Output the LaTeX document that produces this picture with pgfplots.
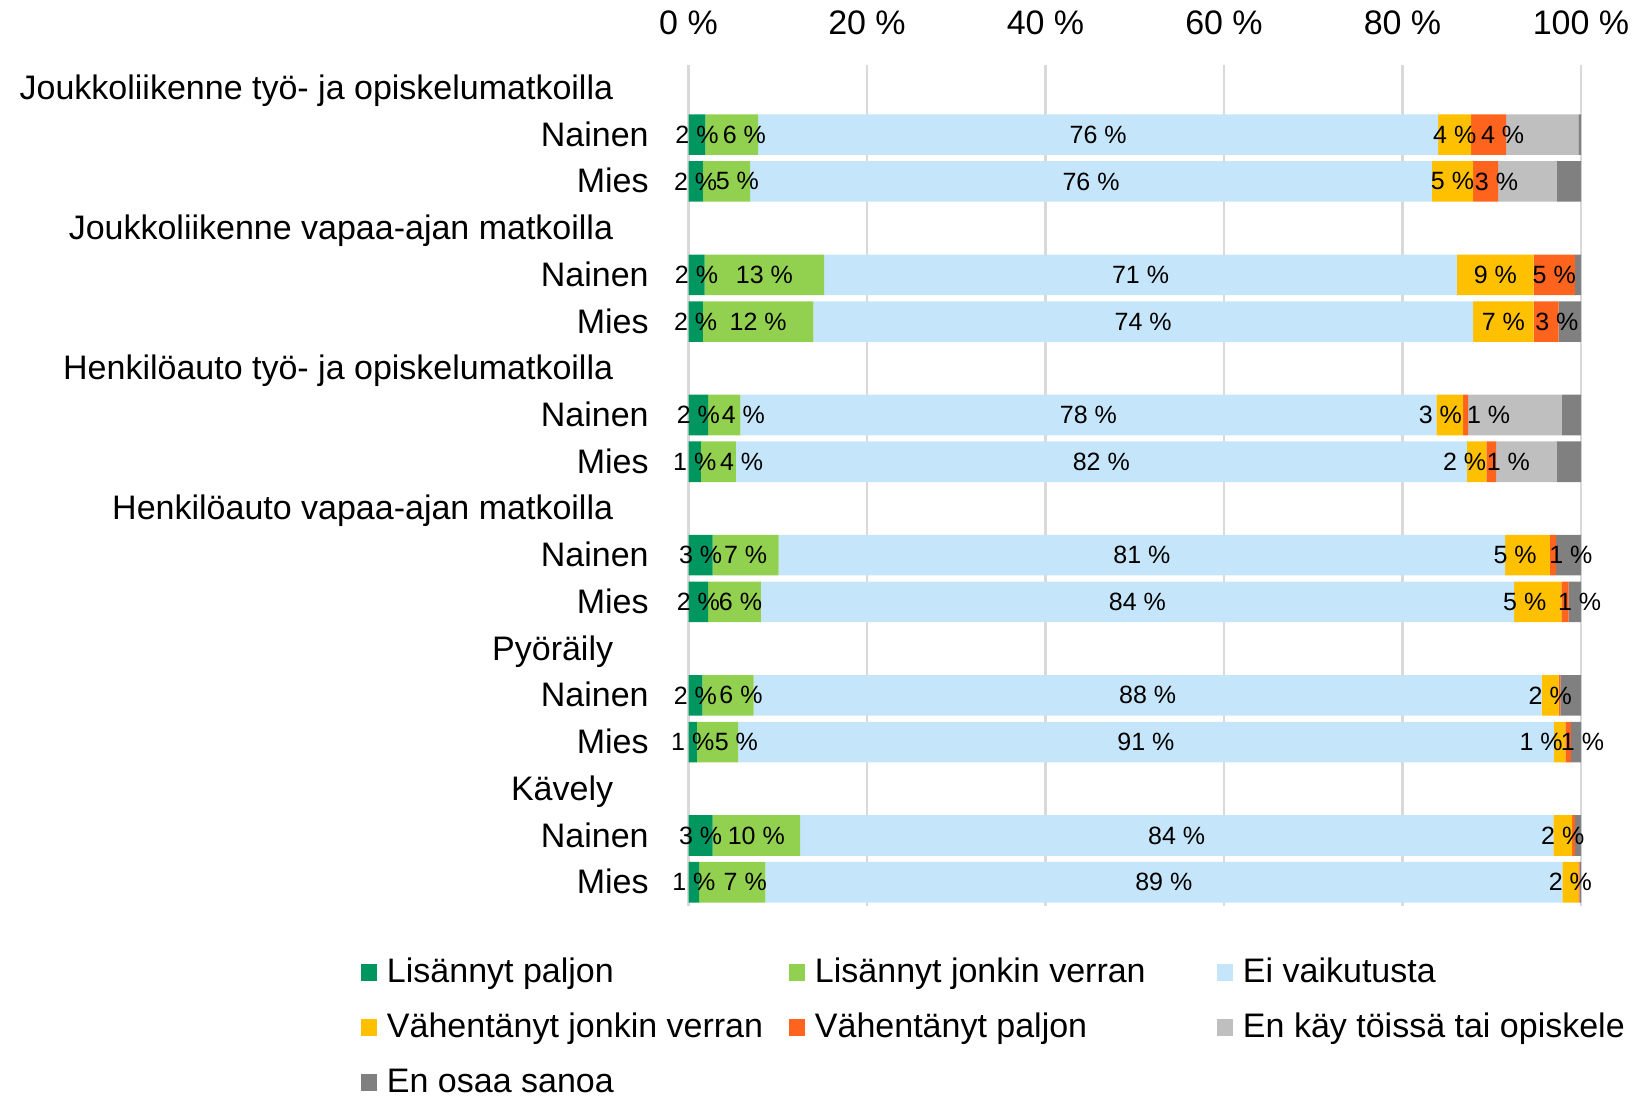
\documentclass[border=0pt]{standalone}
\usepackage{pgfplots}
\pgfplotsset{compat=1.18}
\usepackage{pgfplotstable}
\usepackage{fontspec}
\setmainfont{Liberation Sans}
\definecolor{dkgreen}{RGB}{0,150,95}
\definecolor{ltgreen}{RGB}{146,208,80}
\definecolor{ltblue}{RGB}{197,230,250}
\definecolor{cyellow}{RGB}{255,192,0}
\definecolor{corange}{RGB}{255,100,30}
\definecolor{ltgrey}{RGB}{191,191,191}
\definecolor{dkgrey}{RGB}{128,128,128}
\pgfkeys{/pgf/number format/assume math mode=true}
% rows: y position, the seven answer shares (%), and label nudges (pt) for series b, d, e
\pgfplotstableread{
y   a    b    c    d    e    f    g     sb   sd    se
-1  1.9  5.9  76.2 3.7  3.9  8.1  0.3   6.3  0     7
-2  1.6  5.3  76.4 4.6  2.8  6.6  2.7   5.5  0     5.5
-4  1.8  13.4 70.9 8.6  4.6  0    0.7   0    0     0
-5  1.6  12.4 73.9 6.8  2.8  0    2.5   0    0     5.3
-7  2.2  3.6  78.0 3.0  0.55 10.5 2.15  9.6  -4.75 11.5
-8  1.4  3.9  81.9 2.2  1.1  6.8  2.7   11.6 -6    8.5
-10 2.7  7.4  81.4 5.0  0.7  0    2.8   0    -6.2  9
-11 2.2  5.9  84.4 5.3  0.8  0    1.4   3    -6.5  7.3
-13 1.55 5.75 88.3 1.9  0.2  0    2.3   6.5  0     0
-14 0.95 4.6  91.4 1.3  0.6  0    1.15  9.4  -9.2  7.2
-16 2.7  9.8  84.4 2.1  0.3  0    0.7   0    0     0
-17 1.2  7.4  89.3 1.8  0.15 0    0.15  6.5  0     0
}\data
\newcommand{\seglabel}{%
  \pgfmathfloattofixed{\pgfplotspointmeta}\let\segv\pgfmathresult
  \ifdim\segv pt<0.5pt\relax\else
    \pgfmathprintnumber[fixed,precision=0]{\segv}~\%%
  \fi}
\pgfplotsset{
  lbl/.style={
    point meta=explicit,
    nodes near coords={\seglabel},
    every node near coord/.append style={anchor=center, inner sep=0pt,
      font=\fontsize{12.5}{14}\selectfont, text=black},
  },
  lbls/.style={
    lbl,
    visualization depends on={\thisrow{#1} \as \lshift},
    every node near coord/.append style={xshift=\lshift pt},
  },
}
\newcommand{\lt}[1]{\makebox[206pt][l]{\hspace{5pt}#1}}
\begin{document}
\begin{tikzpicture}
\useasboundingbox (0,0) rectangle (818pt,549pt);
\begin{axis}[
  at={(344.25pt,96.2pt)}, anchor=south west,
  scale only axis, width=446.25pt, height=420.5pt,
  xbar stacked, bar width=20.3pt,
  xmin=0, xmax=100, ymin=-17.5, ymax=0.5,
  axis line style={draw=none},
  major tick length=0pt,
  xtick={0,20,...,100},
  xticklabels={0 \%,20 \%,40 \%,60 \%,80 \%,100 \%},
  xticklabel pos=upper,
  xmajorgrids, grid style={draw=black!15, line width=1.2pt},
  xticklabel style={anchor=center, yshift=21pt, font=\fontsize{17}{20}\selectfont},
  ytick={0,-1,...,-17},
  yticklabels={
    Joukkoliikenne työ- ja opiskelumatkoilla\hspace*{17.75pt}, Nainen, Mies,
    Joukkoliikenne vapaa-ajan matkoilla\hspace*{17.75pt}, Nainen, Mies,
    Henkilöauto työ- ja opiskelumatkoilla\hspace*{17.75pt}, Nainen, Mies,
    Henkilöauto vapaa-ajan matkoilla\hspace*{17.75pt}, Nainen, Mies,
    Pyöräily\hspace*{17.75pt}, Nainen, Mies,
    Kävely\hspace*{17.75pt}, Nainen, Mies},
  yticklabel style={anchor=base east, inner sep=0pt, xshift=-19.75pt, yshift=-5.75pt,
    font=\fontsize{17}{20}\selectfont},
  legend image code/.code={\fill[#1] (0pt,-4.75pt) rectangle (8pt,3.75pt);},
  legend columns=3,
  legend style={at={(-0.36695,-0.0616)}, anchor=north west, draw=none, fill=none,
    inner sep=0pt, outer sep=0pt, row sep=14pt,
    nodes={inner sep=0pt, outer sep=0pt},
    /tikz/every even column/.append style={column sep=0pt},
    font=\fontsize{17}{20}\selectfont},
]
\addplot[fill=dkgreen, draw=none, lbl] table[x=a, y=y, meta=a] {\data};
\addlegendentry{\lt{Lisännyt paljon}}
\addplot[fill=ltgreen, draw=none, lbls=sb] table[x=b, y=y, meta=b] {\data};
\addlegendentry{\lt{Lisännyt jonkin verran}}
\addplot[fill=ltblue, draw=none, lbl] table[x=c, y=y, meta=c] {\data};
\addlegendentry{\lt{Ei vaikutusta}}
\addplot[fill=cyellow, draw=none, lbls=sd] table[x=d, y=y, meta=d] {\data};
\addlegendentry{\lt{Vähentänyt jonkin verran}}
\addplot[fill=corange, draw=none, lbls=se] table[x=e, y=y, meta=e] {\data};
\addlegendentry{\lt{Vähentänyt paljon}}
\addplot[fill=ltgrey, draw=none] table[x=f, y=y] {\data};
\addlegendentry{\lt{En käy töissä tai opiskele}}
\addplot[fill=dkgrey, draw=none] table[x=g, y=y] {\data};
\addlegendentry{\lt{En osaa sanoa}}
\end{axis}
\end{tikzpicture}
\end{document}
